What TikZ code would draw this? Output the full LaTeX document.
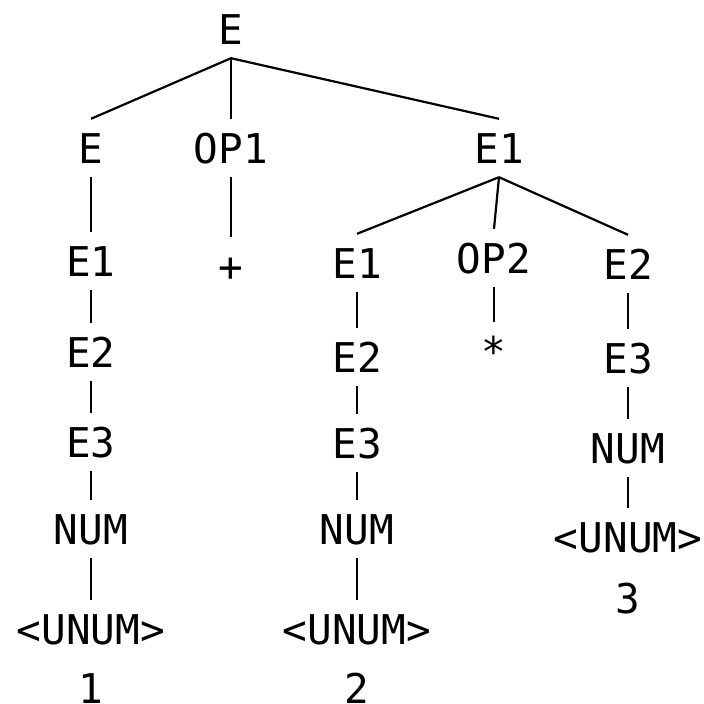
\documentclass[tikz,border=0pt]{standalone}
\usepackage{fontspec}
\newfontfamily\dmono{DejaVu Sans Mono}
\begin{document}
\begin{tikzpicture}[x=1pt,y=-1pt,
  sym/.style={font=\dmono\fontsize{41}{48}\selectfont, text height=30pt, text depth=0pt, inner xsep=2pt, inner ysep=14pt},
  edge/.style={line width=2.2pt}]
\useasboundingbox (0,0) rectangle (704,704);
% level 1
\node[sym] (r) at (231,29) {E};
% level 2
\node[sym] (e) at (91,148) {E};
\node[sym] (op1) at (231,148) {OP1};
\node[sym] (e1) at (499,148) {E1};
% level 3
\node[sym] (ae1) at (91,261) {E1};
\node[sym] (plus) at (231,266) {+};
\node[sym] (be1) at (357,263) {E1};
\node[sym] (op2) at (494,258) {OP2};
\node[sym] (ce2) at (628,264) {E2};
% left chain
\node[sym] (ae2) at (91,352) {E2};
\node[sym] (ae3) at (91,442) {E3};
\node[sym] (anum) at (91,529) {NUM};
\node[sym] (aun) at (91,629) {<UNUM>};
\node[sym] (a1) at (91,688) {1};
% middle chain
\node[sym] (be2) at (357,357) {E2};
\node[sym] (be3) at (357,443) {E3};
\node[sym] (bnum) at (357,529) {NUM};
\node[sym] (bun) at (357,629) {<UNUM>};
\node[sym] (b2) at (357,688) {2};
% right chain
\node[sym] (star) at (494,351) {*};
\node[sym] (ce3) at (628,358) {E3};
\node[sym] (cnum) at (628,448) {NUM};
\node[sym] (cun) at (628,537) {<UNUM>};
\node[sym] (c3) at (628,598) {3};
% edges
\draw[edge] (r.south) -- (e.north);
\draw[edge] (r.south) -- (op1.north);
\draw[edge] (r.south) -- (e1.north);
\draw[edge] (e.south) -- (ae1.north);
\draw[edge] (op1.south) -- (plus.north);
\draw[edge] (e1.south) -- (be1.north);
\draw[edge] (e1.south) -- (op2.north);
\draw[edge] (e1.south) -- (ce2.north);
\draw[edge] (ae1.south) -- (ae2.north);
\draw[edge] (ae2.south) -- (ae3.north);
\draw[edge] (ae3.south) -- (anum.north);
\draw[edge] (anum.south) -- (aun.north);
\draw[edge] (be1.south) -- (be2.north);
\draw[edge] (be2.south) -- (be3.north);
\draw[edge] (be3.south) -- (bnum.north);
\draw[edge] (bnum.south) -- (bun.north);
\draw[edge] (op2.south) -- (star.north);
\draw[edge] (ce2.south) -- (ce3.north);
\draw[edge] (ce3.south) -- (cnum.north);
\draw[edge] (cnum.south) -- (cun.north);
\end{tikzpicture}
\end{document}
